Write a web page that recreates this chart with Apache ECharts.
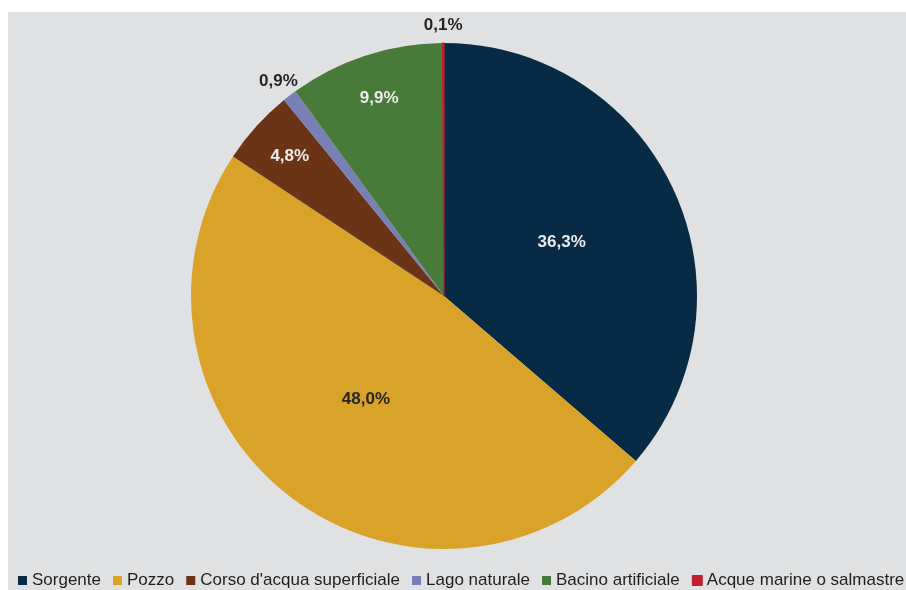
<!DOCTYPE html>
<html>
<head>
<meta charset="utf-8">
<style>
  html, body { margin: 0; padding: 0; background: #ffffff; }
  #chart { position: absolute; left: 8px; top: 12px; width: 898px; height: 578px; background: #e0e1e2; }
</style>
<script src="https://cdn.jsdelivr.net/npm/echarts@6/dist/echarts.min.js"></script>
</head>
<body>
<div id="chart"></div>
<script>
// fonte di approvvigionamento
const categories = ["Sorgente", "Pozzo", "Corso d'acqua superficiale", "Lago naturale", "Bacino artificiale", "Acque marine o salmastre"];
const shares = [36.3, 48.0, 4.8, 0.9, 9.9, 0.1];
const colors = ["#072a45", "#d9a229", "#6c3417", "#7880b6", "#487a3a", "#c0202f"];

// where each label sits: 0 = inside centre, 1 = near the rim, 2 = outside
const labelRing = [0, 0, 1, 2, 1, 2];
const labelColor = ["#ececec", "#262626", "#ececec", "#262626", "#ececec", "#262626"];

const fmt = (v) => v.toFixed(1).replace(".", ",") + "%";

const CENTER = [436, 284];
const R = 253;

function pieData(ring) {
    return categories.map((name, i) => {
        let item = {
            name: name,
            value: shares[i],
            label: {
                show: labelRing[i] === ring,
                color: labelColor[i]
            }
        };
        // the thin red sliver gets an outline so it stays visible
        if (ring === 0 && shares[i] < 0.5) {
            item.itemStyle = { borderColor: colors[i], borderWidth: 1.2 };
        }
        return item;
    });
}

const labelFont = { fontFamily: "Liberation Sans, Arial, sans-serif", fontWeight: "bold", fontSize: 17 };

const chart = echarts.init(document.getElementById("chart"), null, { renderer: "canvas" });
chart.setOption({
    animation: false,
    color: colors,
    legend: {
        left: 5,
        bottom: -4,
        width: 1200,
        itemWidth: 9,
        itemHeight: 9,
        itemGap: 12,
        icon: "rect",
        textStyle: { fontFamily: "Liberation Sans, Arial, sans-serif", fontSize: 17, color: "#1f1f1f" },
        data: categories
    },
    series: [
        {
            type: "pie",
            center: CENTER,
            radius: [0, R],
            startAngle: 90,
            clockwise: true,
            itemStyle: { borderWidth: 0 },
            label: Object.assign({ position: "inside", formatter: (p) => fmt(p.value) }, labelFont),
            labelLine: { show: false },
            emphasis: { disabled: true },
            data: pieData(0)
        },
        {
            // transparent twin, its inside labels fall at 0.81 of the radius
            type: "pie",
            center: CENTER,
            radius: [0, R * 1.62],
            startAngle: 90,
            silent: true,
            itemStyle: { color: "rgba(0,0,0,0)" },
            label: Object.assign({ position: "inside", formatter: (p) => fmt(p.value) }, labelFont),
            labelLine: { show: false },
            emphasis: { disabled: true },
            data: pieData(1)
        },
        {
            // transparent twin for labels just outside the rim
            type: "pie",
            center: CENTER,
            radius: [0, R * 2.12],
            startAngle: 90,
            silent: true,
            itemStyle: { color: "rgba(0,0,0,0)" },
            label: Object.assign({ position: "inside", formatter: (p) => fmt(p.value) }, labelFont),
            labelLine: { show: false },
            emphasis: { disabled: true },
            data: pieData(2)
        }
    ]
});
</script>
</body>
</html>
